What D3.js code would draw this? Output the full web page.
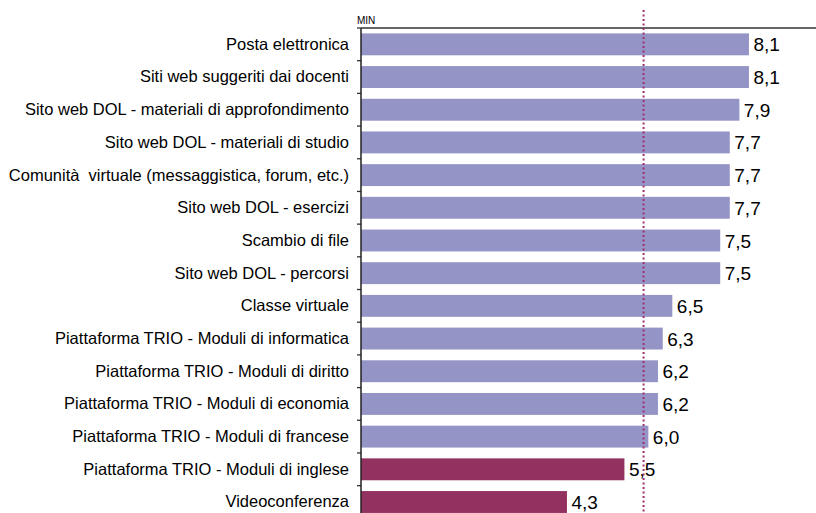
<html>
<head>
<script src="https://d3js.org/d3.v7.min.js"></script>
<style>
  body { margin: 0; background: #fff; }
  text { font-family: "Liberation Sans", Arial, sans-serif; }
</style>
</head>
<body>
<div id="container"></div>
<script>
// data
var categories = [
  "Posta elettronica",
  "Siti web suggeriti dai docenti",
  "Sito web DOL - materiali di approfondimento",
  "Sito web DOL - materiali di studio",
  "Comunità  virtuale (messaggistica, forum, etc.)",
  "Sito web DOL - esercizi",
  "Scambio di file",
  "Sito web DOL - percorsi",
  "Classe virtuale",
  "Piattaforma TRIO - Moduli di informatica",
  "Piattaforma TRIO - Moduli di diritto",
  "Piattaforma TRIO - Moduli di economia",
  "Piattaforma TRIO - Moduli di francese",
  "Piattaforma TRIO - Moduli di inglese",
  "Videoconferenza"
];
var values = [8.1, 8.1, 7.9, 7.7, 7.7, 7.7, 7.5, 7.5, 6.5, 6.3, 6.2, 6.2, 6.0, 5.5, 4.3];
var threshold = 5.9;
var axisTitle = "MIN";

var chartW = 816, chartH = 513;
var marginLeft = 361, marginTop = 28, step = 32.69;

var svg = d3.select("#container").append("svg")
  .attr("width", chartW)
  .attr("height", chartH);

var data = categories.map(function(c, i) { return {name: c, value: values[i]}; });

var x = d3.scaleLinear().domain([0, 9.5]).range([marginLeft, chartW]);
var y = d3.scaleBand()
  .domain(categories)
  .range([marginTop, marginTop + step * categories.length])
  .paddingInner(0.33)
  .paddingOuter(0.165);

// bars
svg.selectAll(".bar")
  .data(data)
  .enter().append("rect")
  .attr("x", x(0))
  .attr("y", function(d) { return y(d.name); })
  .attr("width", function(d) { return x(d.value) - x(0); })
  .attr("height", y.bandwidth())
  .attr("fill", function(d) { return d.value < threshold ? "#933260" : "#9494c7"; });

// value labels
svg.selectAll(".val")
  .data(data)
  .enter().append("text")
  .attr("x", function(d) { return x(d.value) + 4.5; })
  .attr("y", function(d) { return y(d.name) + y.bandwidth() / 2; })
  .attr("dy", "0.37em")
  .attr("font-size", "19px")
  .attr("fill", "#000")
  .text(function(d) { return d3.format(".1f")(d.value).replace(".", ","); });

// category labels
svg.selectAll(".cat")
  .data(data)
  .enter().append("text")
  .attr("x", marginLeft - 12)
  .attr("y", function(d) { return y(d.name) + y.bandwidth() / 2; })
  .attr("dy", "0.33em")
  .attr("text-anchor", "end")
  .attr("font-size", "16.5px")
  .attr("fill", "#000")
  .style("white-space", "pre")
  .text(function(d) { return d.name; });

// left axis with ticks at band edges
var edges = d3.range(categories.length + 1).map(function(i) { return marginTop + i * step; });
svg.selectAll(".tick")
  .data(edges)
  .enter().append("line")
  .attr("x1", marginLeft - 4).attr("x2", marginLeft)
  .attr("y1", function(d) { return d; }).attr("y2", function(d) { return d; })
  .attr("stroke", "#333").attr("stroke-width", 1.3);
svg.append("line")
  .attr("x1", marginLeft).attr("x2", marginLeft)
  .attr("y1", marginTop).attr("y2", chartH)
  .attr("stroke", "#222").attr("stroke-width", 1.5);

// top line
svg.append("line")
  .attr("x1", marginLeft).attr("x2", chartW)
  .attr("y1", marginTop).attr("y2", marginTop)
  .attr("stroke", "#333").attr("stroke-width", 1.3);

svg.append("text")
  .attr("x", marginLeft - 4)
  .attr("y", marginTop - 4)
  .attr("font-size", "10px")
  .text(axisTitle);

// dotted threshold line
svg.append("line")
  .attr("x1", x(threshold)).attr("x2", x(threshold))
  .attr("y1", 10).attr("y2", chartH)
  .attr("stroke", "#a0306a").attr("stroke-width", 2)
  .attr("stroke-dasharray", "2,2.5");
</script>
</body>
</html>
